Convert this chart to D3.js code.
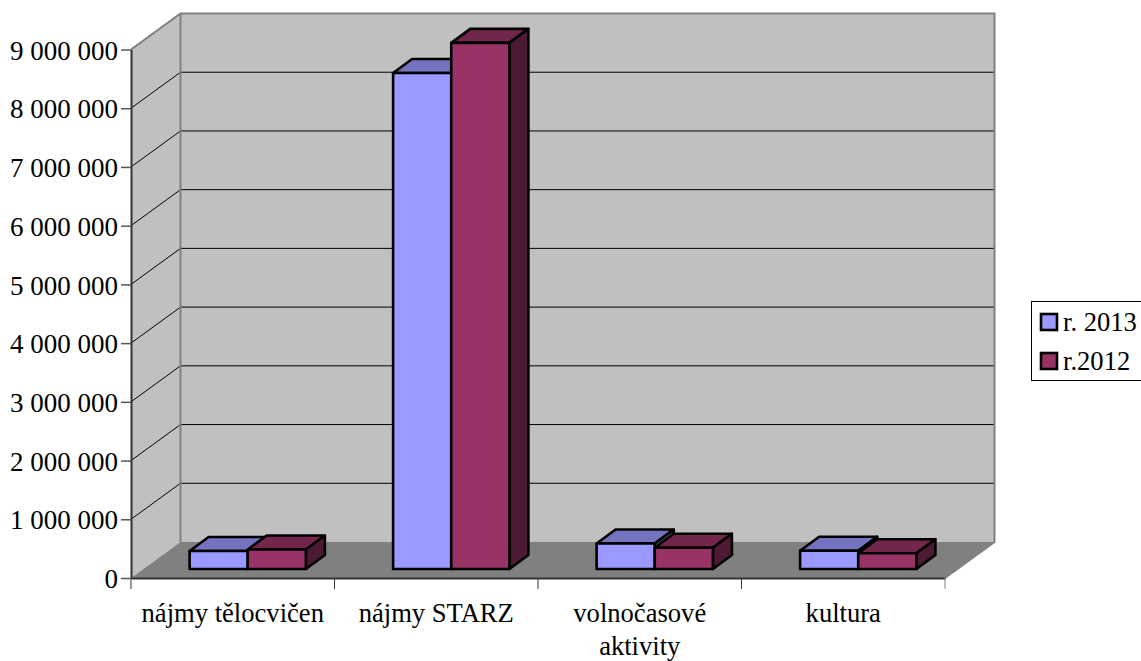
<!DOCTYPE html>
<html>
<head>
<meta charset="utf-8">
<script src="https://cdn.jsdelivr.net/npm/d3@7"></script>
<style>
body{margin:0;background:#fff;overflow:hidden}
text{font-family:"Liberation Serif",serif;fill:#000}
</style>
</head>
<body>
<svg></svg>
<script>
const categories = ["nájmy tělocvičen","nájmy STARZ","volnočasové aktivity","kultura"]
const seriesNames = ["r. 2013","r.2012"]
const values2013 = [306000,8446000,434000,312000]
const values2012 = [332000,8960000,363000,267000]
const yTicks = [0,1000000,2000000,3000000,4000000,5000000,6000000,7000000,8000000,9000000]

const seriesValues = [values2013,values2012]
const colors = [
    {front:"#9999ff",top:"#7373bf"},
    {front:"#993366",top:"#73264c",side:"#4d1a33"}
]

let width = 1141
let height = 661
let plotLeft = 131, plotRight = 945, plotBottom = 578, plotTop = 49.5
// depth of the whole box and of the bars
let wallDx = 49.5, wallDy = -36
let barDx = 19, barDy = -14
let barOffsetX = 15, barOffsetY = -9

let svg = d3.select('svg').attr('width',width).attr('height',height).style('display','block')

let xScale = d3.scaleBand().domain(categories).range([plotLeft,plotRight])
let xInner = d3.scaleBand().domain([0,1]).range([0,xScale.bandwidth()]).paddingOuter(0.75).paddingInner(0)
let yScale = d3.scaleLinear().domain([0,9000000]).range([plotBottom,plotTop])

let poly = (pts,fill,stroke,sw) => {
    svg.append('polygon')
       .attr('points',pts.map(p=>p.join(',')).join(' '))
       .attr('fill',fill)
       .attr('stroke',stroke||'none')
       .attr('stroke-width',sw||0)
       .attr('stroke-linejoin','round')
}

// walls and floor
poly([[plotLeft+wallDx,plotTop+wallDy],[plotRight+wallDx,plotTop+wallDy],[plotRight+wallDx,plotBottom+wallDy],[plotLeft+wallDx,plotBottom+wallDy]],'#c0c0c0')
poly([[plotLeft,plotTop],[plotLeft+wallDx,plotTop+wallDy],[plotLeft+wallDx,plotBottom+wallDy],[plotLeft,plotBottom]],'#c0c0c0')
poly([[plotLeft,plotBottom],[plotLeft+wallDx,plotBottom+wallDy],[plotRight+wallDx,plotBottom+wallDy],[plotRight,plotBottom]],'#808080')

// gridlines
yTicks.filter(d=>d>0 && d<9000000).forEach(d=>{
    let y = yScale(d)
    svg.append('path')
       .attr('d',d3.line()([[plotLeft,y],[plotLeft+wallDx,y+wallDy],[plotRight+wallDx,y+wallDy]]))
       .attr('fill','none').attr('stroke','#000').attr('stroke-width',1)
})

// wall borders
svg.append('path')
   .attr('d',d3.line()([[plotLeft,plotTop],[plotLeft+wallDx,plotTop+wallDy],[plotRight+wallDx,plotTop+wallDy],[plotRight+wallDx,plotBottom+wallDy],[plotRight,plotBottom]]))
   .attr('fill','none').attr('stroke','#808080').attr('stroke-width',2)
svg.append('line')
   .attr('x1',plotLeft+wallDx).attr('x2',plotLeft+wallDx)
   .attr('y1',plotTop+wallDy).attr('y2',plotBottom+wallDy)
   .attr('stroke','#808080').attr('stroke-width',2)

// bars
categories.forEach((c,i)=>{
    seriesValues.forEach((vals,s)=>{
        let x0 = xScale(c)+xInner(s)+barOffsetX
        let x1 = x0+xInner.bandwidth()
        let y0 = plotBottom+barOffsetY
        let y1 = yScale(vals[i])+barOffsetY
        let col = colors[s]
        poly([[x0,y1],[x0+barDx,y1+barDy],[x1+barDx,y1+barDy],[x1,y1]],col.top,'#000',2.6)
        poly([[x1,y1],[x1+barDx,y1+barDy],[x1+barDx,y0+barDy],[x1,y0]],col.side||'#4d4d80','#000',2.6)
        poly([[x0,y1],[x1,y1],[x1,y0],[x0,y0]],col.front,'#000',2.6)
    })
})

// axes
let fmt = d => d3.format(",")(d).replace(/,/g," ")
let yAxis = d3.axisLeft(yScale).tickValues(yTicks).tickFormat(fmt).tickSize(10).tickSizeOuter(0).tickPadding(3)
let yG = svg.append('g').attr('transform','translate('+plotLeft+',0)').call(yAxis)
yG.select('.domain').attr('stroke','#333').attr('stroke-width',2)
yG.selectAll('.tick line').attr('stroke','#555').attr('stroke-width',1.5)
yG.selectAll('text').style('font-family','"Liberation Serif",serif').style('font-size','27px').attr('fill','#000').attr('y',1)

let xAxis = d3.axisBottom(xScale).tickValues([]).tickSizeOuter(0)
let xG = svg.append('g').attr('transform','translate(0,'+plotBottom+')').call(xAxis)
xG.select('.domain').attr('stroke','#333').attr('stroke-width',2)

let edges = categories.map(c=>xScale(c)).concat([plotRight])
svg.selectAll('.xtick').data(edges).enter().append('line')
   .attr('class','xtick')
   .attr('x1',d=>d).attr('x2',d=>d)
   .attr('y1',plotBottom).attr('y2',plotBottom+11)
   .attr('stroke',(d,i)=>i==edges.length-1?'#808080':'#333').attr('stroke-width',1)

categories.forEach(c=>{
    let cx = xScale(c)+xScale.bandwidth()/2
    // long labels wrap on two lines
    let lines = c=="volnočasové aktivity" ? c.split(" ") : [c]
    lines.forEach((l,k)=>{
        svg.append('text')
           .attr('x',cx).attr('y',622+k*33)
           .attr('text-anchor','middle')
           .style('font-size','26.6px')
           .text(l)
    })
})

// legend
svg.append('rect').attr('x',1031.5).attr('y',301.5).attr('width',130).attr('height',79)
   .attr('fill','#fff').attr('stroke','#000').attr('stroke-width',1)
seriesNames.forEach((n,i)=>{
    let ly = 322+i*39
    svg.append('rect').attr('x',1041).attr('y',ly-8).attr('width',16).attr('height',16)
       .attr('fill',colors[i].front).attr('stroke','#000').attr('stroke-width',2.6)
    svg.append('text').attr('x',1063).attr('y',ly+9).style('font-size','26.6px').text(n)
})
</script>
</body>
</html>
